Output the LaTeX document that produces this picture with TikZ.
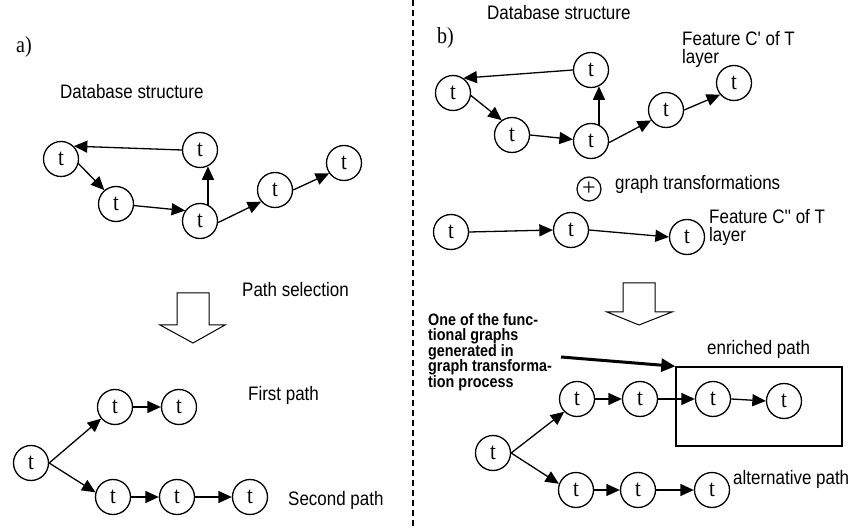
\documentclass[tikz,border=0pt]{standalone}
\usepackage{fontspec}
\setmainfont{Liberation Serif}
\newfontfamily\sansf[FakeStretch=0.87]{Liberation Sans}
\newfontfamily\serift[FakeStretch=0.87]{Liberation Serif}
\usetikzlibrary{arrows.meta}
\tikzset{
  tnode/.style={circle, draw, line width=1.3pt, minimum size=35pt, inner sep=0pt, font=\serift\fontsize{24}{24}\selectfont},
  edge/.style={line width=1.3pt, -{Triangle[length=13.5pt,width=12pt]}},
  lbl/.style={anchor=base west, inner sep=0pt, font=\sansf\fontsize{19.5}{18.5}\selectfont},
  lbltwo/.style={anchor=north west, inner sep=0pt, align=left, font=\sansf\fontsize{19.5}{18.5}\selectfont},
  hollow/.style={draw, line width=1pt, fill=white, line join=miter},
  panel/.style={anchor=base west, inner sep=0pt, font=\serift\fontsize{23}{23}\selectfont},
}
\begin{document}
\begin{tikzpicture}[x=1pt,y=-1pt]
\useasboundingbox (0,0) rectangle (849,529);
% divider
\draw[line width=1.1pt, dash pattern=on 6pt off 4pt] (413,0) -- (413,529);

% ---------- panel a ----------
\node[panel] (la) at (16,53) {a)};
\node[lbl] (dba) at (60,99) {Database structure};
\node[tnode] (A1) at (61,159) {t};
\node[tnode] (A2) at (200,150) {t};
\node[tnode] (A3) at (116,204) {t};
\node[tnode] (A4) at (200,221) {t};
\node[tnode] (A5) at (275,190) {t};
\node[tnode] (A6) at (344,163) {t};
\draw[edge] (A2.west) -- (A1.45);
\draw[edge] (A1.-15) -- (A3.130);
\draw[edge] (A3.-5) -- (A4.145);
\draw[edge] (A4.64) -- (A2.-64);
\draw[edge] (A4.-5) -- (A5.220);
\draw[edge] (A5.east) -- (A6.215);

\node[lbl] (ps) at (242,297) {Path selection};
\draw[hollow] (177,293) -- (209,293) -- (209,325) -- (225,325) -- (193,343) -- (160,325) -- (177,325) -- cycle;

\node[tnode] (B1) at (31,463) {t};
\node[tnode] (B2) at (115,407) {t};
\node[tnode] (B3) at (179,407) {t};
\node[tnode] (B4) at (113,497) {t};
\node[tnode] (B5) at (177,497) {t};
\node[tnode] (B6) at (250,497) {t};
\draw[edge] (B1.east) -- (B2.220);
\draw[edge] (B2.east) -- (B3.west);
\draw[edge] (B1.east) -- (B4.165);
\draw[edge] (B4.east) -- (B5.west);
\draw[edge] (B5.east) -- (B6.west);
\node[lbl] (fp) at (248,400) {First path};
\node[lbl] (sp) at (288,505) {Second path};

% ---------- panel b ----------
\node[panel] (lb) at (437,44) {b)};
\node[lbl] (dbb) at (487,20) {Database structure};
\node[lbltwo] (fc1) at (682,30.8) {Feature C' of T\\layer};
\node[tnode] (C1) at (453,93) {t};
\node[tnode] (C2) at (591,70) {t};
\node[tnode] (C3) at (512,135) {t};
\node[tnode] (C4) at (591,141) {t};
\node[tnode] (C5) at (666,110) {t};
\node[tnode] (C6) at (734,83) {t};
\draw[edge] (C2.west) -- (C1.55);
\draw[edge] (C1.-8) -- (C3.125);
\draw[edge] (C3.east) -- (C4.175);
\draw[edge] (C4.64) -- (C2.-64);
\draw[edge] (C4.-5) -- (C5.215);
\draw[edge] (C5.east) -- (C6.220);

\node[circle, draw, line width=1.2pt, minimum size=24pt, inner sep=0pt, font=\fontsize{24}{24}\selectfont] (plus) at (589,189) {+};
\node[lbl] (gt) at (615,190) {graph transformations};

\node[tnode] (D1) at (451,232) {t};
\node[tnode] (D2) at (571,230) {t};
\node[tnode] (D3) at (687,237) {t};
\draw[edge] (D1.east) -- (D2.west);
\draw[edge] (D2.east) -- (D3.west);
\node[lbltwo] (fc2) at (709,208.8) {Feature C'' of T\\layer};

\draw[hollow] (623,283) -- (655,283) -- (655,312) -- (672,312) -- (639,325) -- (607,312) -- (623,312) -- cycle;

\node[anchor=north west, inner sep=0pt, align=left, font=\sansf\bfseries\fontsize{16.5}{15.5}\selectfont] (note) at (428,313)
  {One of the func-\\tional graphs\\generated in\\graph transforma-\\tion process};
\node[draw, line width=1.4pt, minimum width=166pt, minimum height=79pt, inner sep=0pt] (box) at (759,406.5) {};
\node[lbl] (ep) at (707,355) {enriched path};
\coordinate (ns) at (561,357);
\draw[line width=3pt, -{Triangle[length=14pt,width=13pt]}] (ns) -- (box.north west);

\node[tnode] (E1) at (493,453) {t};
\node[tnode] (E2) at (577,399) {t};
\node[tnode] (E3) at (640,399) {t};
\node[tnode] (E4) at (713,399) {t};
\node[tnode] (E5) at (784,401) {t};
\node[tnode] (F1) at (576,490) {t};
\node[tnode] (F2) at (638,490) {t};
\node[tnode] (F3) at (712,490) {t};
\draw[edge] (E1.east) -- (E2.225);
\draw[edge] (E1.east) -- (F1.160);
\draw[edge] (E2.east) -- (E3.west);
\draw[edge] (E3.east) -- (E4.west);
\draw[edge] (E4.east) -- (E5.west);
\draw[edge] (F1.east) -- (F2.west);
\draw[edge] (F2.east) -- (F3.west);
\node[lbl] (ap) at (733,484) {alternative path};
\end{tikzpicture}
\end{document}
